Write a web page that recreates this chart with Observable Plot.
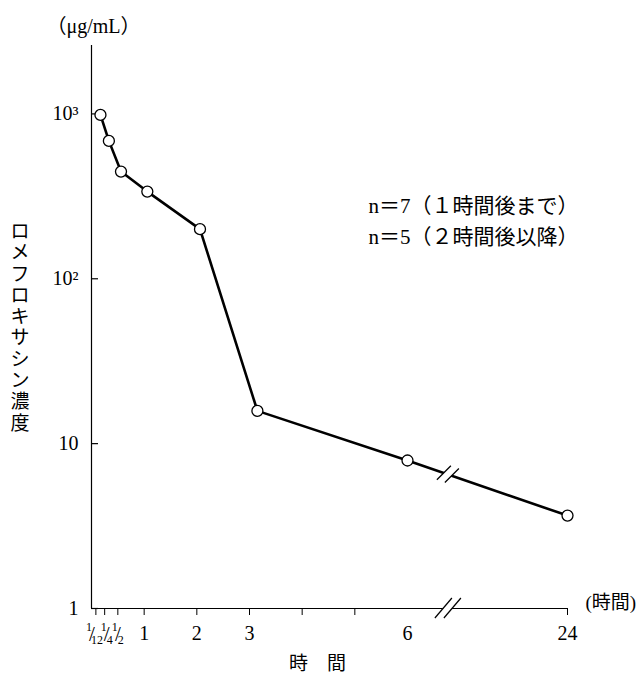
<!DOCTYPE html>
<html><head><meta charset="utf-8">
<script src="https://cdn.jsdelivr.net/npm/d3@7"></script>
<script src="https://cdn.jsdelivr.net/npm/@observablehq/plot@0.6"></script>
<style>body{margin:0;background:#fff}</style>
</head><body><div id="chart"></div>
<script>
// ---- data ----
const hours = [0.17, 0.33, 0.56, 1.06, 2.06, 3.15, 6, 24];
const concentration = [986, 686, 447, 338, 200, 15.8, 7.9, 3.66];
const xTicks = [1/12, 1/4, 1/2, 1, 2, 3, 4, 5, 24];
const xTickLabels = ["", "", "", "1", "2", "3", "", "", "24"];
const fracHours = [1/12, 1/4, 1/2];
const fracNumerators = ["1", "1", "1"];
const fracDenominators = ["12", "4", "2"];
const xExtraLabelHours = [6];
const xExtraLabels = ["6"];
const yTicks = [1, 10, 100, 1000];
const yTickLabels = ["1", "10", "10²", "10³"];
const xDomain = [0, 6, 24];      // broken axis
const breakHour = 10.6;
const yDomain = [1, 2600];
const yTitle = "ロメフロキサシン濃度";
const unitTitle = "（μg/mL）";
const xUnitTitle = "(時間)";
const xTitle = "時　間";
const notes = ["n＝7（１時間後まで）", "n＝5（２時間後以降）"];

const rows = hours.map((h, i) => ({hour: h, conc: concentration[i]}));
const xLabelMap = new Map(xTicks.map((t, i) => [t, xTickLabels[i]]));

const W = 644, H = 686, ML = 91, MR = 77, MT = 45, MB = 78;
const FONT = "'Liberation Serif', 'Noto Sans CJK JP', serif";

function breaks(index, scales) {
  const x = scales.x, y = scales.y;
  const g = d3.create("svg:g").attr("fill", "none").attr("stroke", "black");
  // axis break
  const bx = x(breakHour), ay = y(1);
  const a = 4.5, hx = 8.5, hy = 10;
  g.append("polygon")
    .attr("points", [[bx - a - hx, ay + hy], [bx - a + hx, ay - hy], [bx + a + hx, ay - hy], [bx + a - hx, ay + hy]].join(" "))
    .attr("fill", "white").attr("stroke", "none");
  for (const o of [-a, a]) {
    g.append("line").attr("x1", bx + o - hx).attr("y1", ay + hy).attr("x2", bx + o + hx).attr("y2", ay - hy).attr("stroke-width", 1.2);
  }
  // data-line break between 6 h and 24 h
  const i6 = hours.indexOf(6), i24 = hours.indexOf(24);
  const x0 = x(hours[i6]), y0 = y(concentration[i6]), x1 = x(hours[i24]), y1 = y(concentration[i24]);
  const slope = (y1 - y0) / (x1 - x0);
  const by = y0 + (bx - x0) * slope;
  const b = 4, kx = 7, ky = 7;
  const c = o => [bx + o, by + o * slope];
  const [c1x, c1y] = c(-b), [c2x, c2y] = c(b);
  g.append("polygon")
    .attr("points", [[c1x - kx, c1y + ky], [c1x + kx, c1y - ky], [c2x + kx, c2y - ky], [c2x - kx, c2y + ky]].join(" "))
    .attr("fill", "white").attr("stroke", "none");
  for (const [cx, cy] of [[c1x, c1y], [c2x, c2y]]) {
    g.append("line").attr("x1", cx - kx).attr("y1", cy + ky).attr("x2", cx + kx).attr("y2", cy - ky).attr("stroke-width", 1.2);
  }
  return g.node();
}

// stacked fraction tick labels: numerator, slash, denominator (one set of marks per label)
const fracOffsets = [[-7, -4, -1], [-1, 2, 5], [-3, 0, 3]];
const fractionMarks = fracHours.flatMap((h, i) => [
  Plot.text([h], {x: d => d, y: () => 1, text: () => fracNumerators[i], dy: 19, dx: fracOffsets[i][0], fontSize: 12}),
  Plot.text([h], {x: d => d, y: () => 1, text: () => "/", dy: 26, dx: fracOffsets[i][1], fontSize: 21}),
  Plot.text([h], {x: d => d, y: () => 1, text: () => fracDenominators[i], dy: 32, dx: fracOffsets[i][2] + (fracDenominators[i].length - 1) * 2, fontSize: 12})
]);

const chart = Plot.plot({
  width: W, height: H,
  marginLeft: ML, marginRight: MR, marginTop: MT, marginBottom: MB,
  style: {fontFamily: FONT, fontSize: "20px", background: "white", color: "black", overflow: "visible"},
  x: {
    type: "linear", domain: xDomain, range: [ML, ML + 316, W - MR],
    ticks: xTicks, tickFormat: d => xLabelMap.get(d) ?? "", tickSize: 7, tickPadding: 10, label: null
  },
  y: {
    type: "log", domain: yDomain, ticks: yTicks,
    tickFormat: d => yTickLabels[yTicks.indexOf(d)], tickSize: 0, tickPadding: 13, label: null
  },
  marks: [
    Plot.ruleX([0], {stroke: "black", strokeWidth: 1.2}),
    Plot.ruleY([1], {stroke: "black", strokeWidth: 1.2}),
    Plot.tickY(yTicks, {y: d => d, stroke: "black", strokeWidth: 1.2, insetRight: W - ML - MR - 7}),
    Plot.line(rows, {x: "hour", y: "conc", stroke: "black", strokeWidth: 2.6}),
    breaks,
    Plot.dot(rows, {x: "hour", y: "conc", r: 5.5, fill: "white", stroke: "black", strokeWidth: 1.3}),
    ...fractionMarks,
    Plot.text(xExtraLabelHours, {x: d => d, y: () => 1, text: (d, i) => xExtraLabels[i], lineAnchor: "top", dy: 17, fontSize: 20}),
    Plot.text([unitTitle], {frameAnchor: "top-left", dx: -45, dy: -27, textAnchor: "start", fontSize: 20}),
    Plot.text([xUnitTitle], {frameAnchor: "bottom-right", dx: 18, textAnchor: "start", fontSize: 19}),
    Plot.text([xTitle], {frameAnchor: "bottom", dx: -12, dy: 61, fontSize: 19}),
    Plot.text([yTitle.split("").join("\n")], {frameAnchor: "left", dx: -81, lineHeight: 1.12, fontSize: 19}),
    Plot.text([notes[0]], {frameAnchor: "top-left", dx: 277, dy: 153, textAnchor: "start", fontSize: 21}),
    Plot.text([notes[1]], {frameAnchor: "top-left", dx: 277, dy: 184, textAnchor: "start", fontSize: 21})
  ]
});
document.getElementById("chart").appendChild(chart);
</script>
</body></html>
